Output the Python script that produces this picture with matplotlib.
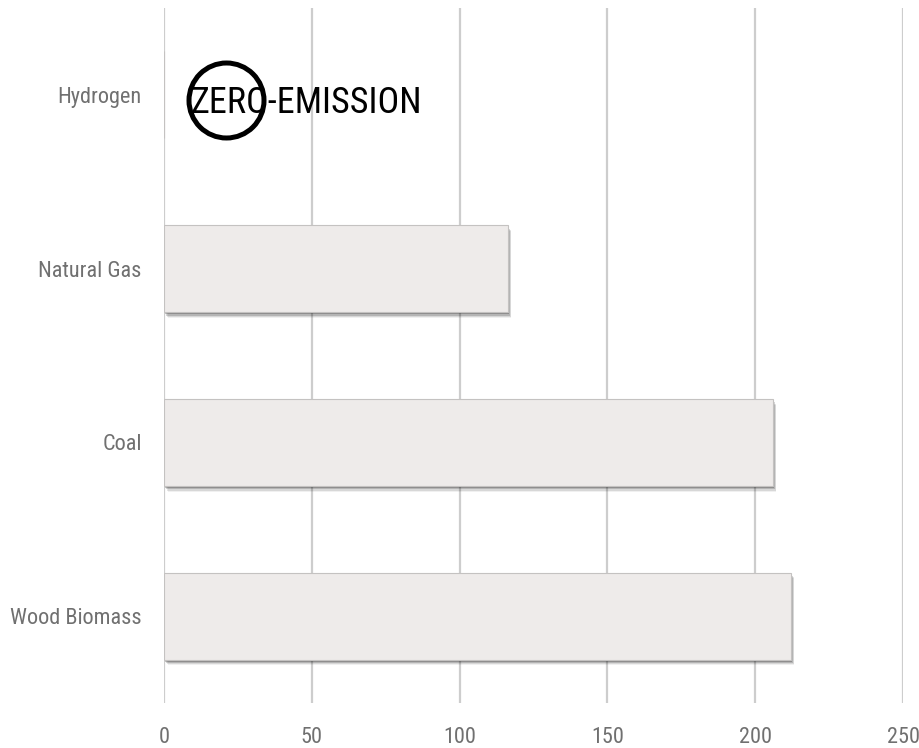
import matplotlib
matplotlib.use("Agg")
import matplotlib.pyplot as plt
import matplotlib.patheffects as pe
from matplotlib import font_manager as fm

categories = ["Wood Biomass", "Coal", "Natural Gas", "Hydrogen"]
values = [212, 206, 116.3, 0]
xticks = [0, 50, 100, 150, 200, 250]
annotation = "ZERO-EMISSION"

names = {f.name for f in fm.fontManager.ttflist}
cands = ["Roboto Condensed", "Liberation Sans Narrow", "DejaVu Sans Condensed", "Roboto"]
family = next((c for c in cands if c in names), "DejaVu Sans")
plt.rcParams["font.family"] = [family, "DejaVu Sans"]

fig = plt.figure(figsize=(9.2, 7.48), dpi=100)
ax = fig.add_axes([0.1783, 0.0602, 0.8033, 0.9291])

pos = list(range(len(categories)))
bars = ax.barh(pos, values, height=0.5, color="#EEEBEA", edgecolor="#C4C2C1",
               linewidth=0.8, zorder=3)
shadow = [
    pe.SimplePatchShadow(offset=(2.5, -4.2), shadow_rgbFace="#000000", alpha=0.06),
    pe.SimplePatchShadow(offset=(2.0, -3.4), shadow_rgbFace="#000000", alpha=0.10),
    pe.SimplePatchShadow(offset=(1.5, -2.5), shadow_rgbFace="#000000", alpha=0.16),
    pe.SimplePatchShadow(offset=(1.0, -1.6), shadow_rgbFace="#000000", alpha=0.22),
    pe.Normal(),
]
for b in bars:
    b.set_path_effects(shadow)

ax.set_xlim(0, 250)
ax.set_ylim(-0.5, 3.5)
ax.set_xticks(xticks)
ax.set_xticklabels([str(t) for t in xticks])
ax.set_yticks(pos)
ax.set_yticklabels(categories)
ax.grid(axis="x", color="#CDCDCD", linewidth=1.6, zorder=0)
ax.set_axisbelow(True)
for s in ax.spines.values():
    s.set_visible(False)
ax.tick_params(axis="both", length=0, colors="#707070", labelsize=16)
ax.tick_params(axis="x", pad=17)
ax.tick_params(axis="y", pad=16)

ax.text(8.8, 2.893, annotation, fontsize=26, color="black",
        va="baseline", ha="left", zorder=5)
ax.plot([20.8], [2.97], marker="o", markersize=54, markerfacecolor="none",
        markeredgecolor="black", markeredgewidth=3.6, zorder=6, clip_on=False)

fig.savefig("out.png", dpi=100)
